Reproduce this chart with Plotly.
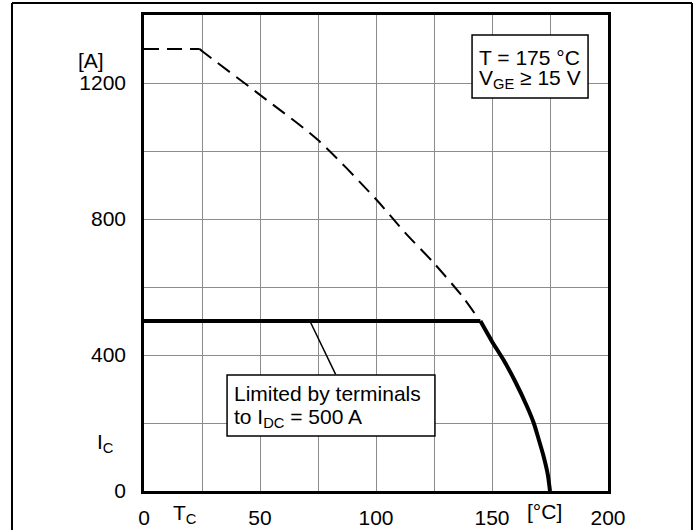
import plotly.graph_objects as go

# ---- data ----
dashed_T = [0, 24, 25, 50, 75, 100, 112.5, 125, 137.5, 143]
dashed_I = [1300, 1300, 1294, 1165, 1032, 858, 760, 670, 570, 518]

solid_T = [0, 145, 150, 155, 160, 165, 168, 170, 172, 174, 175]
solid_I = [500, 500, 440, 385, 322, 250, 200, 155, 108, 50, 0]

x_tick_vals = [0, 50, 100, 150, 200]
x_tick_text = ["0", "50", "100", "150", "200"]
y_tick_vals = [0, 400, 800, 1200]
y_tick_text = ["0", "400", "800", "1200"]

FONT = "Liberation Sans, Arial, sans-serif"
FS = 21

fig = go.Figure()
fig.add_trace(go.Scatter(x=dashed_T[:2], y=dashed_I[:2], mode="lines",
                         line=dict(color="black", width=2, dash="15px,8px"),
                         showlegend=False, hoverinfo="skip"))
fig.add_trace(go.Scatter(x=dashed_T[1:], y=dashed_I[1:], mode="lines",
                         line=dict(color="black", width=2, dash="15px,8px",
                                   shape="spline", smoothing=0.8),
                         showlegend=False, hoverinfo="skip"))
fig.add_trace(go.Scatter(x=solid_T[:2], y=solid_I[:2], mode="lines",
                         line=dict(color="black", width=4),
                         showlegend=False, hoverinfo="skip"))
fig.add_trace(go.Scatter(x=solid_T[1:], y=solid_I[1:], mode="lines",
                         line=dict(color="black", width=4, shape="spline", smoothing=0.6),
                         showlegend=False, hoverinfo="skip"))

grid = "#8c8c8c"
fig.update_xaxes(range=[0, 200], tickvals=x_tick_vals, ticktext=x_tick_text,
                 showgrid=True, gridcolor=grid, gridwidth=1,
                 minor=dict(dtick=25, tick0=0, showgrid=True, gridcolor=grid, gridwidth=1),
                 showline=True, mirror=True, linecolor="black", linewidth=2.5,
                 ticks="", zeroline=False, ticklabelstandoff=6, automargin=False,
                 tickfont=dict(family=FONT, size=FS, color="black"))
fig.update_yaxes(range=[0, 1400], tickvals=y_tick_vals, ticktext=y_tick_text,
                 showgrid=True, gridcolor=grid, gridwidth=1,
                 minor=dict(dtick=200, tick0=0, showgrid=True, gridcolor=grid, gridwidth=1),
                 showline=True, mirror=True, linecolor="black", linewidth=2.5,
                 ticks="", zeroline=False, ticklabelstandoff=11, automargin=False,
                 tickfont=dict(family=FONT, size=FS, color="black"))

box1 = dict(x0=141.4, x1=191.4, y0=1156, y1=1341)
box2 = dict(x0=35.8, x1=125.4, y0=162, y1=341)
leader = dict(x0=71.5, y0=500, x1=82.6, y1=343)

# outer frame (paper coords)
fx0, fx1, fytop, fybot = -0.2845, 1.181, 1.0252, -0.2

shapes = [
    dict(type="rect", xref="x", yref="y", **box1, fillcolor="white",
         line=dict(color="black", width=1.5), layer="above"),
    dict(type="rect", xref="x", yref="y", **box2, fillcolor="white",
         line=dict(color="black", width=1.5), layer="above"),
    dict(type="line", xref="x", yref="y", **leader,
         line=dict(color="black", width=1.5), layer="above"),
    dict(type="line", xref="paper", yref="paper", x0=fx0, x1=fx0, y0=fybot, y1=fytop,
         line=dict(color="black", width=2)),
    dict(type="line", xref="paper", yref="paper", x0=fx0, x1=fx1, y0=fytop, y1=fytop,
         line=dict(color="black", width=2)),
    dict(type="line", xref="paper", yref="paper", x0=fx1, x1=fx1, y0=fybot, y1=fytop,
         line=dict(color="black", width=2)),
]

def ann(text, x, y, ref="x", xanchor="center", yanchor="middle"):
    return dict(text=text, x=x, y=y,
                xref="x" if ref == "x" else "paper",
                yref="y" if ref == "x" else "paper",
                showarrow=False, xanchor=xanchor, yanchor=yanchor,
                font=dict(family=FONT, size=FS, color="black"))

annotations = [
    ann("[A]", -0.1142, 0.9034, ref="paper"),
    ann("I<sub>C</sub>", -0.084, 0.1008, ref="paper"),
    ann("T<sub>C</sub>", 0.0884, -0.0483, ref="paper"),
    ann("[°C]", 0.8642, -0.0441, ref="paper"),
    ann("T = 175 °C", 143.5, 1275, xanchor="left"),
    ann("V<sub>GE</sub> ≥ 15 V", 143.5, 1212, xanchor="left"),
    ann("Limited by terminals", 37.9, 288, xanchor="left"),
    ann("to I<sub>DC</sub> = 500 A", 37.9, 214, xanchor="left"),
]

fig.update_layout(width=697, height=530,
                  margin=dict(l=144, r=89, t=15, b=39),
                  plot_bgcolor="white", paper_bgcolor="white",
                  shapes=shapes, annotations=annotations,
                  font=dict(family=FONT, size=FS, color="black"))

fig.write_html("out.html")
